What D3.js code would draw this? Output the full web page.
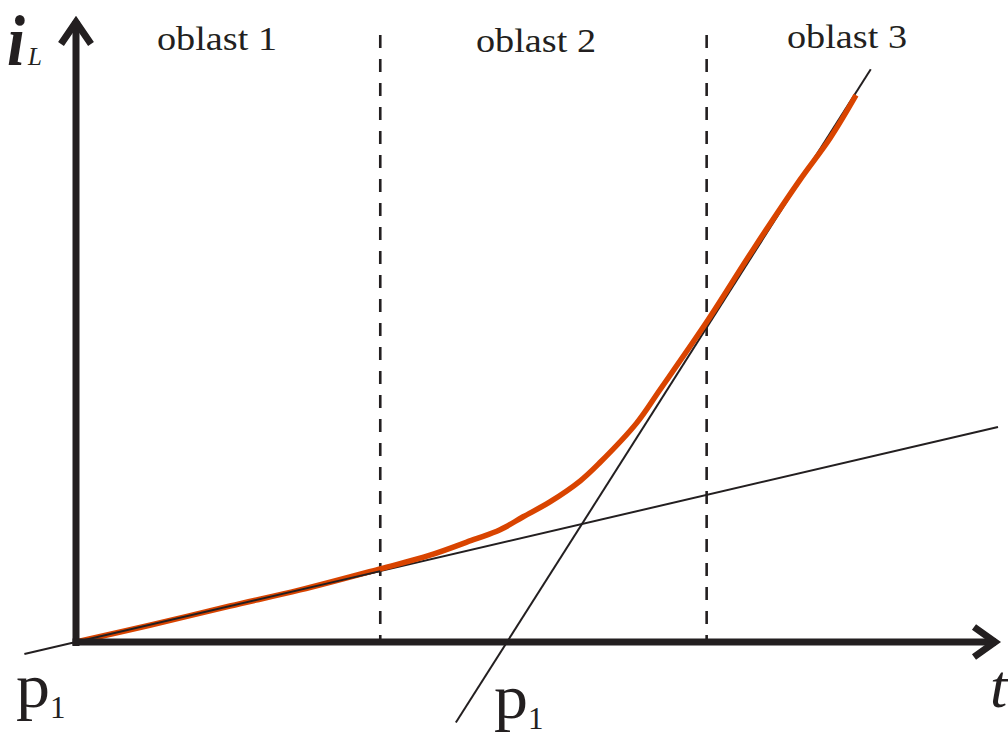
<!DOCTYPE html>
<html>
<head>
<meta charset="utf-8">
<script src="https://cdn.jsdelivr.net/npm/d3@7"></script>
<style>
  html, body { margin: 0; padding: 0; background: #fff; }
  svg { display: block; }
</style>
</head>
<body>
<svg id="chart" width="1008" height="736"></svg>
<script>
// Inductor current i_L versus time t, three regions of operation
const regionLabels = ["oblast 1", "oblast 2", "oblast 3"];
const regionBounds = [33.0, 68.4];           // t where regions change
const currentT = [0, 8.0, 16.7, 24.3, 33.0, 38.4, 43.1, 46.0, 48.5, 51.4, 54.7, 56.8, 60.8, 63.3, 68.4, 73.4, 78.5, 81.8, 84.6];
const currentI = [0, 2.7, 5.8, 8.4, 11.8, 14.0, 16.5, 18.1, 20.2, 22.6, 26.0, 28.9, 35.3, 40.6, 51.6, 63.2, 74.5, 81.3, 88.2];
// asymptote in region 1: i = k1 * t
const lowLineT = [-5.6, 100];
const lowSlope = 0.3468;
// asymptote in region 3: i = k3 * (t - t0)
const steepLineT = [41.2, 86.2];
const steepT0 = 46.75;
const steepSlope = 2.342;

const ink = "#231f20";
const orange = "#d94400";

const svg = d3.select("#chart");
const x = d3.scaleLinear().domain([0, 100]).range([76, 998]);
const y = d3.scaleLinear().domain([0, 100]).range([642, 22]);

// region separators
svg.selectAll("line.sep").data(regionBounds).join("line")
  .attr("class", "sep")
  .attr("x1", d => x(d)).attr("x2", d => x(d))
  .attr("y1", 35).attr("y2", y(0))
  .attr("stroke", ink).attr("stroke-width", 2.6)
  .attr("stroke-dasharray", "13 11");

// asymptotes
const line = d3.line().x(d => x(d[0])).y(d => y(d[1]));
svg.append("path")
  .attr("d", line(lowLineT.map(t => [t, lowSlope * t])))
  .attr("fill", "none").attr("stroke", ink).attr("stroke-width", 2);
svg.append("path")
  .attr("d", line(steepLineT.map(t => [t, steepSlope * (t - steepT0)])))
  .attr("fill", "none").attr("stroke", ink).attr("stroke-width", 2);

// measured current
const curve = d3.line().x(d => x(d[0])).y(d => y(d[1])).curve(d3.curveCatmullRom);
svg.append("path")
  .attr("d", curve(currentT.map((t, i) => [t, currentI[i]])))
  .attr("fill", "none").attr("stroke", orange).attr("stroke-width", 5.5)
  .attr("stroke-linecap", "butt");

// thin black line re-drawn over the current in region 1
svg.append("path")
  .attr("d", line([[0, 0], [regionBounds[0], lowSlope * regionBounds[0]]]))
  .attr("fill", "none").attr("stroke", ink).attr("stroke-width", 1.8);

// axes with arrow heads
const ax = svg.append("g").attr("stroke", ink).attr("fill", "none");
ax.append("line")
  .attr("x1", x(0)).attr("x2", x(0))
  .attr("y1", y(0) + 4).attr("y2", y(100) - 1)
  .attr("stroke-width", 7);
ax.append("line")
  .attr("x1", x(0) - 3.5).attr("x2", x(100) - 2)
  .attr("y1", y(0)).attr("y2", y(0))
  .attr("stroke-width", 7);
ax.append("polyline")
  .attr("points", [[x(0) - 15, y(100) + 22], [x(0), y(100)], [x(0) + 15, y(100) + 22]].join(" "))
  .attr("stroke-width", 7).attr("stroke-linejoin", "miter").attr("stroke-miterlimit", 10);
ax.append("polyline")
  .attr("points", [[x(100) - 24, y(0) - 15], [x(100) - 3, y(0)], [x(100) - 24, y(0) + 15]].join(" "))
  .attr("stroke-width", 7).attr("stroke-linejoin", "miter").attr("stroke-miterlimit", 10);

// labels
const serif = "'Liberation Serif', 'Times New Roman', serif";
const labelPos = [[157, 50], [476, 52], [787, 48]];
svg.selectAll("text.region").data(regionLabels).join("text")
  .attr("class", "region")
  .attr("x", (d, i) => labelPos[i][0]).attr("y", (d, i) => labelPos[i][1])
  .attr("textLength", 120).attr("lengthAdjust", "spacingAndGlyphs")
  .attr("font-family", serif).attr("font-size", 33).attr("fill", ink)
  .text(d => d);

function label(px, py, size, txt, italic, len, weight) {
  const t = svg.append("text")
    .attr("x", px).attr("y", py)
    .attr("font-family", serif).attr("font-size", size)
    .attr("font-style", italic ? "italic" : "normal")
    .attr("font-weight", weight || "normal")
    .attr("fill", ink).text(txt);
  if (len) t.attr("textLength", len).attr("lengthAdjust", "spacingAndGlyphs");
  return t;
}
label(7, 65, 72, "i", true, 18, "bold");
label(28, 65, 25, "L", true);
label(16, 707, 64, "p", false, 34);
label(50, 718, 31, "1", false);
label(494, 718, 64, "p", false, 34);
label(528, 729, 31, "1", false);
label(990, 707, 62, "t", true);
</script>
</body>
</html>
